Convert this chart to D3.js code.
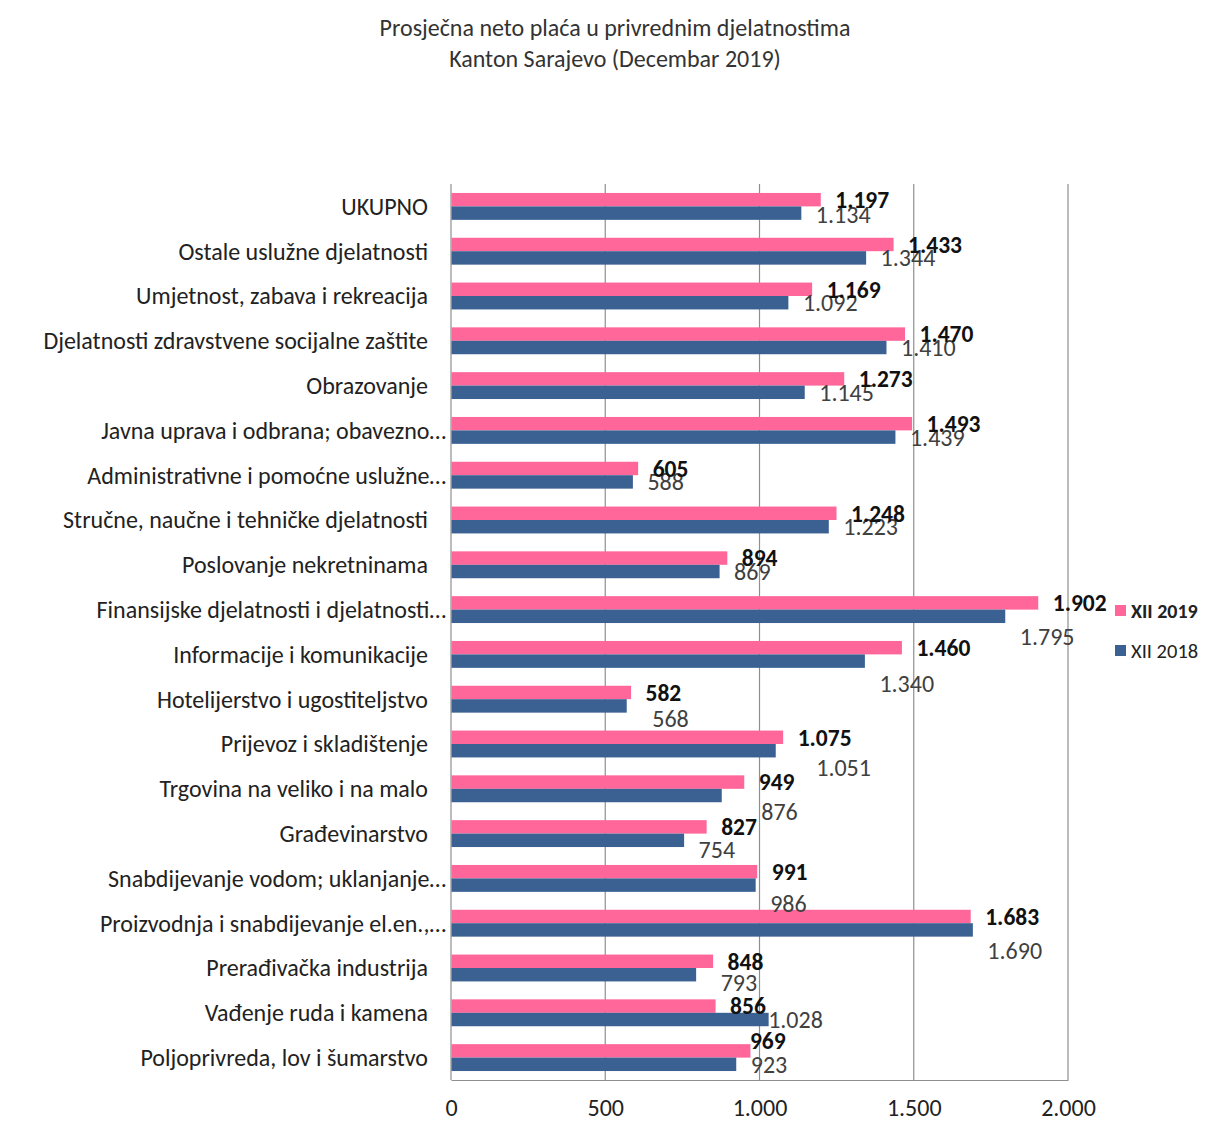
<!DOCTYPE html>
<html>
<head>
<meta charset="utf-8">
<script src="https://cdn.jsdelivr.net/npm/d3@7/dist/d3.min.js"></script>
<style>
  html, body { margin: 0; padding: 0; background: #fff; }
  svg { display: block; }
  text { font-family: Carlito, Lato, "Liberation Sans", sans-serif; }
</style>
</head>
<body>
<svg id="chart" width="1211" height="1124"></svg>
<script>
// ---- data ----
const categories = [
  "UKUPNO",
  "Ostale uslužne djelatnosti",
  "Umjetnost, zabava i rekreacija",
  "Djelatnosti zdravstvene socijalne zaštite",
  "Obrazovanje",
  "Javna uprava i odbrana; obavezno…",
  "Administrativne i pomoćne uslužne…",
  "Stručne, naučne i tehničke djelatnosti",
  "Poslovanje nekretninama",
  "Finansijske djelatnosti i djelatnosti…",
  "Informacije i komunikacije",
  "Hotelijerstvo i ugostiteljstvo",
  "Prijevoz i skladištenje",
  "Trgovina na veliko i na malo",
  "Građevinarstvo",
  "Snabdijevanje vodom; uklanjanje…",
  "Proizvodnja i snabdijevanje el.en.,…",
  "Prerađivačka industrija",
  "Vađenje ruda i kamena",
  "Poljoprivreda, lov i šumarstvo"
];
const seriesNames = ["XII 2019", "XII 2018"];
const values2019 = [1197, 1433, 1169, 1470, 1273, 1493, 605, 1248, 894, 1902, 1460, 582, 1075, 949, 827, 991, 1683, 848, 856, 969];
const values2018 = [1134, 1344, 1092, 1410, 1145, 1439, 588, 1223, 869, 1795, 1340, 568, 1051, 876, 754, 986, 1690, 793, 1028, 923];
const xTicks = [0, 500, 1000, 1500, 2000];
const titleLines = ["Prosječna neto plaća u privrednim djelatnostima", "Kanton Sarajevo (Decembar 2019)"];

// ---- label nudges (layout, px) ----
const label2019Nudge = categories.map((c, i) => i === 19 ? [-15, -10] : [0, 0]);
const label2018Nudge = [[0,1],[0,0],[0,0],[0,0],[0,0],[0,0],[0,0],[0,0],[0,0],[0,20],[0,22],[11,13],[26,17],[25,16],[0,9],[0,18],[0,21],[10,8],[-15,0],[0,0]];

const colors = { "XII 2019": "#ff6699", "XII 2018": "#3a6192" };
const FONT = "Carlito, Lato, 'Liberation Sans', sans-serif";

const svg = d3.select("#chart");
const loc = d3.formatLocale({ decimal: ",", thousands: ".", grouping: [3], currency: ["", ""] });
const fmt = loc.format(",d");

const x = d3.scaleLinear().domain([0, 2000]).range([451, 1068]);
const y = d3.scaleBand().domain(categories).range([184, 1080]).paddingInner(0.4).paddingOuter(0.2);
const ys = d3.scaleBand().domain(seriesNames).range([0, y.bandwidth()]);

// title
svg.append("g").selectAll("text").data(titleLines).join("text")
  .attr("x", 615).attr("y", (d, i) => 28 + i * 31)
  .attr("dy", "0.35em")
  .attr("text-anchor", "middle").attr("font-size", 24).attr("fill", "#333")
  .text(d => d);

// gridlines
svg.append("g").selectAll("line").data(xTicks.slice(1)).join("line")
  .attr("x1", d => x(d)).attr("x2", d => x(d))
  .attr("y1", 184).attr("y2", 1080)
  .attr("stroke", "#8f8f8f").attr("stroke-width", 1.2);

// x axis
const xAxis = d3.axisBottom(x).tickValues(xTicks).tickFormat(fmt).tickSize(0).tickPadding(19);
const gx = svg.append("g").attr("transform", "translate(0,1080)").call(xAxis);
gx.select(".domain").attr("stroke", "#8f8f8f").attr("stroke-width", 1.2);
gx.selectAll("text").attr("font-size", 24).attr("fill", "#222").style("font-family", FONT);

// y axis line
svg.append("line").attr("x1", 451).attr("x2", 451).attr("y1", 184).attr("y2", 1080)
  .attr("stroke", "#8f8f8f").attr("stroke-width", 1.2);

// category labels
svg.append("g").selectAll("text").data(categories).join("text")
  .attr("x", d => d.endsWith("…") ? 446 : 428)
  .attr("y", d => y(d) + y.bandwidth() / 2)
  .attr("dy", "0.35em")
  .attr("text-anchor", "end").attr("font-size", 24).attr("fill", "#222")
  .text(d => d);

// bars
const rows = categories.map((c, i) => ({ c, i, v: { "XII 2019": values2019[i], "XII 2018": values2018[i] } }));
seriesNames.forEach(s => {
  svg.append("g").selectAll("rect").data(rows).join("rect")
    .attr("x", x(0) + 0.5)
    .attr("y", d => y(d.c) + ys(s))
    .attr("width", d => x(d.v[s]) - x(0))
    .attr("height", ys.bandwidth())
    .attr("fill", colors[s]);
});

// value labels
const drawLabels = (s, nudge, weight, color, size) => {
  svg.append("g").selectAll("text").data(rows).join("text")
    .attr("x", d => x(d.v[s]) + 15 + nudge[d.i][0])
    .attr("y", d => y(d.c) + ys(s) + ys.bandwidth() / 2 + nudge[d.i][1])
    .attr("dy", "0.35em")
    .attr("font-size", size).attr("font-weight", weight).attr("fill", color)
    .text(d => fmt(d.v[s]));
};
drawLabels("XII 2018", label2018Nudge, "normal", "#404040", 24);
drawLabels("XII 2019", label2019Nudge, "bold", "#111", 23.5);

// legend
const lg = svg.append("g").attr("transform", "translate(1115,605)");
seriesNames.forEach((s, i) => {
  const g = lg.append("g").attr("transform", `translate(0,${i * 40})`);
  g.append("rect").attr("width", 11).attr("height", 11).attr("fill", colors[s]);
  g.append("text").attr("x", 16).attr("y", 6).attr("dy", "0.35em")
    .attr("font-size", i === 0 ? 20 : 20.5).attr("font-weight", i === 0 ? "bold" : "normal").attr("fill", "#222")
    .text(s);
});
</script>
</body>
</html>
